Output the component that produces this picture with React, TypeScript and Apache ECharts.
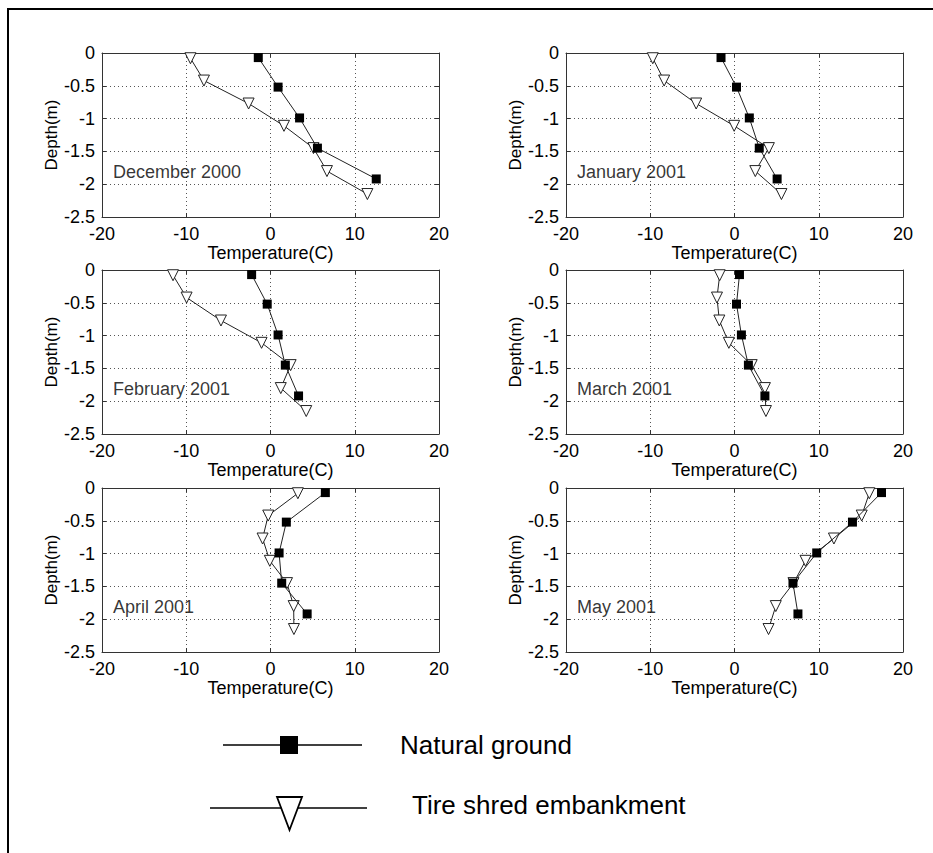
import React, { useEffect, useRef } from "react";
import * as echarts from "echarts";

// ---------- data ----------
const months = [
  "December 2000",
  "January 2001",
  "February 2001",
  "March 2001",
  "April 2001",
  "May 2001",
];

// depths (m) of the measurement points
const depthNatural = [-0.07, -0.52, -0.99, -1.45, -1.92];
const depthTire = [-0.08, -0.42, -0.77, -1.11, -1.45, -1.8, -2.15];

// temperatures (C) — Natural ground
const naturalDec = [-1.45, 0.9, 3.45, 5.57, 12.55];
const naturalJan = [-1.6, 0.24, 1.76, 2.94, 5.06];
const naturalFeb = [-2.24, -0.39, 0.9, 1.76, 3.33];
const naturalMar = [0.59, 0.24, 0.82, 1.65, 3.61];
const naturalApr = [6.51, 1.88, 1.02, 1.33, 4.35];
const naturalMay = [17.45, 14.0, 9.76, 6.94, 7.53];

// temperatures (C) — Tire shred embankment
const tireDec = [-9.5, -7.9, -2.6, 1.6, 5.1, 6.7, 11.5];
const tireJan = [-9.7, -8.35, -4.55, -0.04, 4.08, 2.47, 5.57];
const tireFeb = [-11.57, -9.96, -5.88, -1.06, 2.39, 1.22, 4.24];
const tireMar = [-1.76, -2.08, -1.8, -0.67, 2.04, 3.61, 3.73];
const tireApr = [3.25, -0.27, -0.94, -0.08, 1.96, 2.75, 2.78];
const tireMay = [16.0, 15.1, 11.8, 8.43, 7.0, 4.9, 4.04];

const naturalTemps = [naturalDec, naturalJan, naturalFeb, naturalMar, naturalApr, naturalMay];
const tireTemps = [tireDec, tireJan, tireFeb, tireMar, tireApr, tireMay];

// axis ticks
const xMin = -20;
const xMax = 20;
const xStep = 10;
const yMin = -2.5;
const yMax = 0;
const yStep = 0.5;

const xName = "Temperature(C)";
const yName = "Depth(m)";
const legendNames = ["Natural ground", "Tire shred embankment"];

// ---------- layout ----------
const FONT = '"Liberation Sans", Arial, Helvetica, sans-serif';
const colLefts = [102, 566];
const rowTops = [53, 270, 488];
const PW = 337;
const PH = 164;
const AX = "#333";
const monthLabelPos = [-18.7, -1.82];

export default function App() {
  const ref = useRef<HTMLDivElement>(null);

  useEffect(() => {
    document.body.style.margin = "0";
    if (!ref.current) return;
    const chart = echarts.init(ref.current, null, { renderer: "svg" });

    const grid: any[] = [];
    const xAxis: any[] = [];
    const yAxis: any[] = [];
    const series: any[] = [];
    const n = months.length;

    months.forEach((m, i) => {
      grid.push({
        left: colLefts[i % 2],
        top: rowTops[Math.floor(i / 2)],
        width: PW,
        height: PH,
        containLabel: false,
      });
    });

    // primary bottom x axes
    months.forEach((_, i) => {
      xAxis.push({
        type: "value",
        gridIndex: i,
        min: xMin,
        max: xMax,
        interval: xStep,
        position: "bottom",
        axisLine: { show: true, onZero: false, lineStyle: { color: AX, width: 1 } },
        axisTick: { show: true, inside: true, length: 4, lineStyle: { color: AX } },
        axisLabel: { color: "#000", fontSize: 18, margin: 8, fontFamily: FONT },
        splitLine: { show: true, lineStyle: { type: [1, 3], color: "#555", width: 1 } },
        name: xName,
        nameLocation: "middle",
        nameGap: 27,
        nameTextStyle: { color: "#000", fontSize: 18, fontFamily: FONT },
      });
    });
    // secondary top x axes (box + ticks)
    months.forEach((_, i) => {
      xAxis.push({
        type: "value",
        gridIndex: i,
        min: xMin,
        max: xMax,
        interval: xStep,
        position: "top",
        axisLine: { show: true, onZero: false, lineStyle: { color: AX, width: 1 } },
        axisTick: { show: true, inside: true, length: 4, lineStyle: { color: AX } },
        axisLabel: { show: false },
        splitLine: { show: false },
      });
    });
    // primary left y axes
    months.forEach((_, i) => {
      yAxis.push({
        type: "value",
        gridIndex: i,
        min: yMin,
        max: yMax,
        interval: yStep,
        position: "left",
        axisLine: { show: true, onZero: false, lineStyle: { color: AX, width: 1 } },
        axisTick: { show: true, inside: true, length: 4, lineStyle: { color: AX } },
        axisLabel: { color: "#000", fontSize: 18, margin: 7, fontFamily: FONT },
        splitLine: { show: true, lineStyle: { type: [1, 3], color: "#555", width: 1 } },
        name: yName,
        nameLocation: "middle",
        nameRotate: 90,
        nameGap: 42,
        nameTextStyle: { color: "#000", fontSize: 17, fontFamily: FONT },
      });
    });
    // secondary right y axes
    months.forEach((_, i) => {
      yAxis.push({
        type: "value",
        gridIndex: i,
        min: yMin,
        max: yMax,
        interval: yStep,
        position: "right",
        axisLine: { show: true, onZero: false, lineStyle: { color: AX, width: 1 } },
        axisTick: { show: true, inside: true, length: 4, lineStyle: { color: AX } },
        axisLabel: { show: false },
        splitLine: { show: false },
      });
    });

    months.forEach((m, i) => {
      series.push({
        type: "line",
        name: legendNames[1],
        xAxisIndex: i,
        yAxisIndex: i,
        data: tireTemps[i].map((t, k) => [t, depthTire[k]]),
        symbol: "triangle",
        symbolRotate: 180,
        symbolSize: 11,
        showSymbol: true,
        itemStyle: { color: "#fff", borderColor: "#222", borderWidth: 1 },
        lineStyle: { color: "#222", width: 1 },
        emphasis: { disabled: true },
        silent: true,
        z: 3,
      });
      series.push({
        type: "line",
        name: legendNames[0],
        xAxisIndex: i,
        yAxisIndex: i,
        data: naturalTemps[i].map((t, k) => [t, depthNatural[k]]),
        symbol: "rect",
        symbolSize: 9,
        showSymbol: true,
        itemStyle: { color: "#000", borderColor: "#000", borderWidth: 0 },
        lineStyle: { color: "#222", width: 1 },
        emphasis: { disabled: true },
        silent: true,
        z: 4,
      });
      series.push({
        type: "scatter",
        xAxisIndex: i,
        yAxisIndex: i,
        data: [{ value: monthLabelPos, name: m }],
        symbolSize: 0,
        silent: true,
        label: {
          show: true,
          position: "right",
          distance: 0,
          formatter: m,
          color: "#000",
          fontSize: 18,
          fontFamily: FONT,
        },
        z: 5,
      });
    });

    const legendY1 = 745;
    const legendY2 = 808;

    const graphic: any[] = [
      {
        type: "polyline",
        shape: { points: [[8, 853], [8, 9], [933, 9]] },
        style: { stroke: "#000", lineWidth: 2, fill: null },
        silent: true,
      },
      {
        type: "line",
        shape: { x1: 223, y1: legendY1, x2: 362, y2: legendY1 },
        style: { stroke: "#000", lineWidth: 1.5 },
        silent: true,
      },
      {
        type: "rect",
        shape: { x: 280, y: legendY1 - 9, width: 18, height: 18 },
        style: { fill: "#000" },
        z: 10,
        silent: true,
      },
      {
        type: "text",
        x: 400,
        y: legendY1,
        style: {
          text: legendNames[0],
          fill: "#000",
          font: `26px ${FONT}`,
          fontSize: 26,
          fontFamily: FONT,
          textAlign: "left",
          align: "left",
          textVerticalAlign: "middle",
          verticalAlign: "middle",
        },
        silent: true,
      },
      {
        type: "line",
        shape: { x1: 210, y1: legendY2, x2: 367, y2: legendY2 },
        style: { stroke: "#000", lineWidth: 1.5 },
        silent: true,
      },
      {
        type: "polygon",
        shape: { points: [[277, 797], [302, 797], [289.5, 830]] },
        style: { fill: "#fff", stroke: "#000", lineWidth: 1.8 },
        z: 10,
        silent: true,
      },
      {
        type: "text",
        x: 412,
        y: legendY2 - 3,
        style: {
          text: legendNames[1],
          fill: "#000",
          font: `26px ${FONT}`,
          fontSize: 26,
          fontFamily: FONT,
          textAlign: "left",
          align: "left",
          textVerticalAlign: "middle",
          verticalAlign: "middle",
        },
        silent: true,
      },
    ];

    chart.setOption({
      animation: false,
      backgroundColor: "#fff",
      textStyle: { fontFamily: FONT },
      grid,
      xAxis,
      yAxis,
      series,
      graphic,
    });

    return () => {
      chart.dispose();
    };
  }, []);

  return <div ref={ref} style={{ width: 933, height: 853 }} />;
}
